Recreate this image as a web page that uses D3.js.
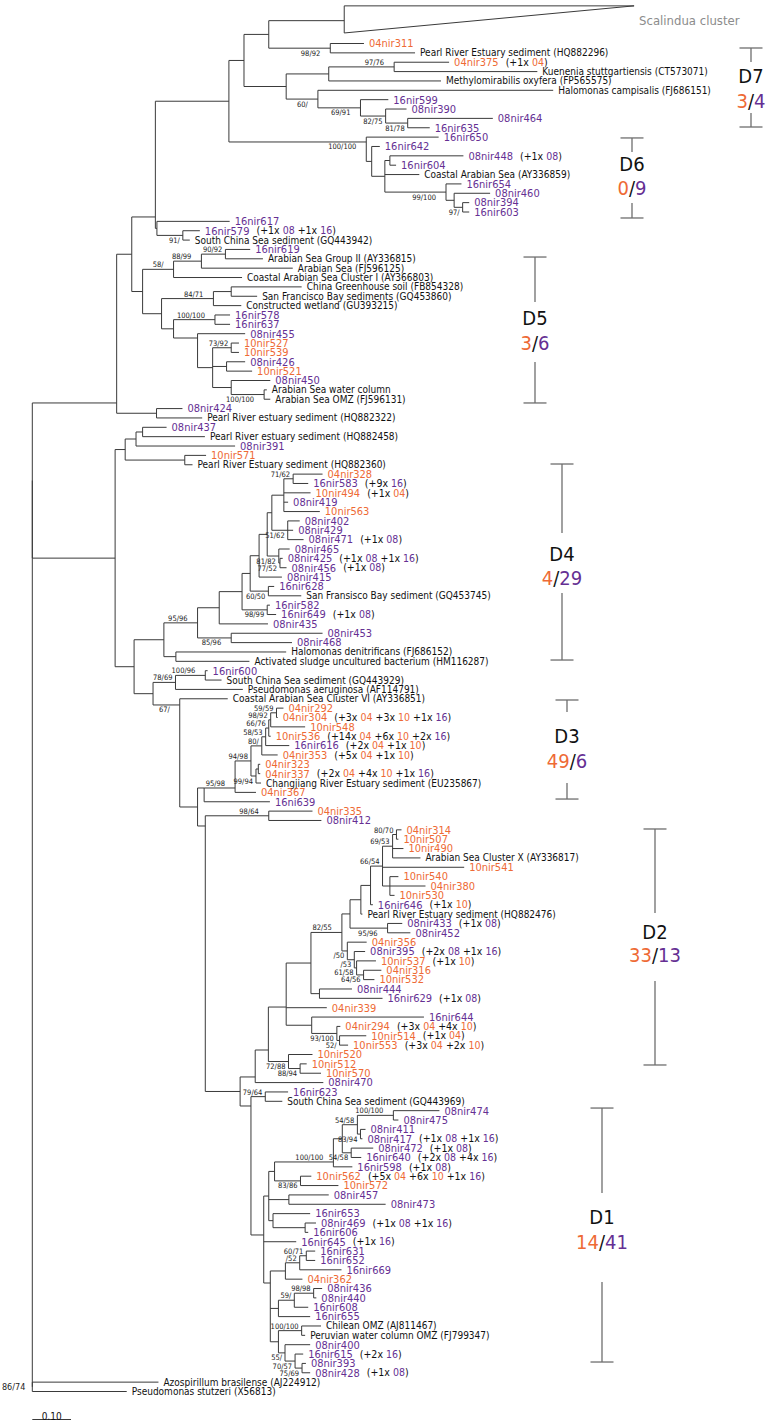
<!DOCTYPE html>
<html><head><meta charset="utf-8">
<script src="https://cdn.jsdelivr.net/npm/d3@7"></script>
<style>body{margin:0;background:#fff}svg{display:block}</style>
</head><body>
<svg id="chart" width="776" height="1423"></svg>
<script>
// ---------------- DATA (Newick pieces, branch lengths in 1/1000 substitutions) ----------------
const n268 = "('Scalindua cluster':195,(04nir311:87,'Pearl River Estuary sediment (HQ882296)':219)98/92:159)";
const n328 = "((04nir375:142,'Kuenenia stuttgartiensis (CT573071)':370)97/76:169,'Methylomirabilis oxyfera (FP565575)':290)";
const n317 = "('Halomonas campisalis (FJ686151)':608,(16nir599:72,(08nir390:54,(08nir464:220,16nir635:57)81/78:57)82/75:65)69/91:110)60/";
const cladeD6 = "(16nir650:187,(16nir642:21,((08nir448:190,16nir604:16):13,'Coastal Arabian Sea (AY336859)':89,(16nir654:40,(08nir460:93,(08nir394:17,16nir603:17)97/:22):21)99/100:158):34):14)100/100";
const n157 = "(16nir617:188,(16nir579:44,'South China Sea sediment (GQ443942)':18)91/:67)";
const cladeD5 = "((((16nir619:64,'Arabian Sea  Group II (AY336815)':97)90/92:62,'Arabian Sea (FJ596125)':236)88/99:72,'Coastal Arabian Sea Cluster I (AY366803)':177)58/:80,((('China Greenhouse soil (FB854328)':182,'San Francisco Bay sediments (GQ453860)':67):46,'Constructed wetland (GU393215)':72)84/71:134,((16nir578:39,16nir637:39)100/100:107,(08nir455:123,((10nir527:20,10nir539:20)73/92:48,(08nir426:48,10nir521:66):36,(08nir450:101,('Arabian Sea water column':7,'Arabian Sea OMZ (FJ596131)':16)100/100:85):48):39):62):31):49)";
const n156 = "(08nir424:67,'Pearl River estuary sediment (HQ882322)':118)";
const n125 = "(((08nir437:62,'Pearl River estuary sediment (HQ882458)':161):17,08nir391:256):28,(10nir571:55,'Pearl River Estuary sediment (HQ882360)':20):154)";
const n283 = "((04nir328:76,16nir583:39)71/62:24,10nir494:69,08nir419:11,10nir563:93)";
const n287 = "(08nir402:31,08nir429:14,08nir471:41)51/62";
const n278 = "(08nir465:28,(08nir425:7,08nir456:17)77/52:3)81/82";
const n259b = "(16nir628:15,'San Fransisco Bay sediment (GQ453745)':85)60/50";
const n267 = "(16nir582:7,16nir649:23)98/99";
const n231d = "(08nir453:236,08nir468:157)85/96";
const n175 = "('Halomonas denitrificans (FJ686152)':285,'Activated sludge uncultured bacterium (HM116287)':190)";
const n175b = "((16nir600:6,'South China Sea sediment (GQ443929)':42)100/96:77,'Pseudomonas aeruginosa (AF114791)':174)78/69";
const n271b = "((04nir292:18,04nir304:3)59/59:15,10nir548:89)98/92";
const n256 = "((04nir323:5,04nir337:5):6,'Changjiang River Estuary sediment (EU235867)':13)99/94";
const n382 = "(((04nir314:13,10nir507:5)80/70:10,10nir490:28,'Arabian Sea Cluster X (AY336817)':72)69/53:26,10nir541:211,(10nir540:22,04nir380:92,10nir530:12):19)66/54";
const n387 = "(08nir433:38,08nir452:59)95/96";
const n347 = "(04nir356:50,(08nir395:28,(10nir537:50,(04nir316:46,10nir532:28)64/56:18)61/58:6)/53:18)/50";
const n319 = "(08nir444:84,16nir629:163)";
const n312 = "(16nir644:290,(04nir294:9,(10nir514:69,10nir553:22)52/:7)93/100:65)";
const n288 = "(10nir520:62,(10nir512:17,10nir570:54)88/94:30)72/88";
const n333 = "((((08nir474:119,08nir475:13)100/100:93,(08nir411:13,08nir417:5)83/94:8)54/58:39,(08nir472:57,16nir640:26)54/58:23):23,16nir598:49)100/100";
const n300b = "(10nir562:28,10nir572:98)83/86";
const n288b = "(08nir457:103,08nir473:250)";
const n273 = "(16nir653:96,(08nir469:28,16nir606:8):83)";
const n285 = "(((16nir631:23,16nir652:23)60/71:17,16nir669:108)/52:37,04nir362:44)";
const n278c = "(((08nir436:22,08nir440:7)98/98:50,16nir608:36)59/:41,16nir655:82)";
const n278d = "(('Chilean OMZ (AJ811467)':50,'Peruvian water column OMZ (FJ799347)':9)100/100:60,(08nir400:65,(16nir615:21,(08nir393:10,08nir428:21)75/69:18)70/57:26)55/:17)";
const n265 = "(16nir623:59,'South China Sea sediment (GQ443969)':44)79/64";
const n269b = "(04nir335:113,08nir412:136)98/64";
const outgroup = "('Azospirillum brasilense (AJ224912)':326,'Pseudomonas stutzeri (X56813)':244)86/74";

// composition of the tree
const cladeD7 = `(${n268}:64,(${n328}:110,${n317}:82):109)`;
const upper = `((((${cladeD7}:39,${cladeD6}:355):190,${n157}:4):61,${cladeD5}:28):39,${n156}:103)`;
const cladeD4 = `(((((((${n283}:31,${n287}:41):12,${n278}:30):21,08nir415:59):23,${n259b}:47):21,${n267}:65):59,08nir435:126):56,${n231d}:87)95/96`;
const cladeD3 = `((((((${n271b}:5,10nir536:5)66/76:8,16nir616:61)58/53:10,04nir353:41)80/:28,${n256}:13)94/98:41,04nir367:54)95/98:80,16ni639:170)`;
const cladeD2 = `((((((((${n382}:31,16nir646:6):25,'Pearl River Estuary sediment (HQ882476)':4):28,${n387}:97):21,${n347}:14)82/55:80,${n319}:22):64,04nir339:105,${n312}:66):46,${n288}:52):34,08nir470:176)`;
const cladeD1 = `(${n265}:37,(((${n333}:152,${n300b}:67):15,${n288b}:52,${n273}:11):13,16nir645:84,(${n285}:39,${n278c}:21,${n278d}:21):17):33)`;
const lower = `(${n125}:26,((${cladeD4}:87,${n175}:31):77,(${n175b}:58,('Coastal Arabian Sea Cluster VI (AY336851)':124,(${cladeD3}:17,(${n269b}:164,(${cladeD2}:39,${cladeD1}:28):90):20):46)67/:69):49):49)`;
const treeNewick = `((${upper}:218,${lower}:214):0,${outgroup}:0);`;

// collapsed clade (drawn as triangle)
const collapsedName = "Scalindua cluster";
const collapsedDepth = 0.749;
const collapsedSlots = [-4.02, -2.44, -1.125]; // top, label, bottom (leaf units)

// internal nodes whose joint is not drawn at the middle of their children: [first leaf, last leaf, row]
const nodeAnchors = [
  ["16nir650", "16nir603", 10.52],
  ["Scalindua cluster", "South China Sea sediment (GQ443942)", 18.53],
  ["Scalindua cluster", "Pearl River estuary sediment (HQ882322)", 38.4],
  ["08nir455", "Arabian Sea OMZ (FJ596131)", 31.46],
  ["Coastal Arabian Sea Cluster VI (AY336851)", "08nir428", 70.66],
  ["04nir292", "04nir367", 79.53],
  ["04nir292", "16ni639", 79.53],
  ["04nir335", "08nir428", 83.59],
  ["04nir314", "10nir553", 102.93],
  ["04nir314", "08nir470", 110.4],
  ["04nir314", "10nir570", 107.52],
  ["16nir623", "08nir428", 113.5],
  ["08nir474", "08nir428", 127.28],
  ["16nir631", "08nir428", 132.41],
  ["08nir474", "16nir598", 119.48]
];

// extra identical sequences per leaf: [leaf, [[count, year], ...]]
const extraCopies = [
  ["04nir375", [[1,"04"]]], ["08nir448", [[1,"08"]]], ["16nir579", [[1,"08"],[1,"16"]]],
  ["16nir583", [[9,"16"]]], ["10nir494", [[1,"04"]]], ["08nir471", [[1,"08"]]],
  ["08nir425", [[1,"08"],[1,"16"]]], ["08nir456", [[1,"08"]]], ["16nir649", [[1,"08"]]],
  ["04nir304", [[3,"04"],[3,"10"],[1,"16"]]], ["10nir536", [[14,"04"],[6,"10"],[2,"16"]]],
  ["16nir616", [[2,"04"],[1,"10"]]], ["04nir353", [[5,"04"],[1,"10"]]],
  ["04nir337", [[2,"04"],[4,"10"],[1,"16"]]], ["16nir646", [[1,"10"]]], ["08nir433", [[1,"08"]]],
  ["08nir395", [[2,"08"],[1,"16"]]], ["10nir537", [[1,"10"]]], ["16nir629", [[1,"08"]]],
  ["04nir294", [[3,"04"],[4,"10"]]], ["10nir514", [[1,"04"]]], ["10nir553", [[3,"04"],[2,"10"]]],
  ["08nir417", [[1,"08"],[1,"16"]]], ["08nir472", [[1,"08"]]], ["16nir640", [[2,"08"],[4,"16"]]],
  ["16nir598", [[1,"08"]]], ["10nir562", [[5,"04"],[6,"10"],[1,"16"]]],
  ["08nir469", [[1,"08"],[1,"16"]]], ["16nir645", [[1,"16"]]], ["16nir615", [[2,"16"]]],
  ["08nir428", [[1,"08"]]]
];

// clusters
const cladeNames = ["D7","D6","D5","D4","D3","D2","D1"];
const countsOrange = [3, 0, 3, 4, 49, 33, 14];
const countsPurple = [4, 9, 6, 29, 6, 13, 41];

// ---------------- LAYOUT / STYLE ----------------
const orange = "#EE6A35", purple = "#652F93", lineColor = "#3a3a3a";
const yearColor = {"04": orange, "10": orange, "08": purple, "16": purple};
const FONT = "'DejaVu Sans Condensed','DejaVu Sans',sans-serif";
const bracketX = [751, 632, 535, 562, 567, 655, 602];
const bracketSpan = [[0.48,1.98,7.42,8.92],[10.09,11.59,17.04,18.64],[22.81,27.61,34.02,38.40],
  [44.92,52.29,58.70,65.86],[70.13,71.41,79.0,80.71],[83.91,92.88,100.15,109.12],[113.72,122.8,132.3,140.85]];
const bracketText = [[3.47,6.14],[12.87,15.44],[29.32,31.99],[54.53,57.10],[73.97,76.64],[94.92,97.38],[125.36,128.03]];

// ---------------- PARSER ----------------
function parseNewick(s) {
  let i = 0;
  function skip() { while (i < s.length && /\s/.test(s[i])) i++; }
  function node() {
    skip();
    const nd = {children: []};
    if (s[i] === '(') {
      i++;
      nd.children.push(node()); skip();
      while (s[i] === ',') { i++; nd.children.push(node()); skip(); }
      i++; // ')'
    }
    skip();
    if (s[i] === "'") { const j = s.indexOf("'", i + 1); nd.name = s.slice(i + 1, j); i = j + 1; }
    else { let j = i; while (j < s.length && !",():;".includes(s[j])) j++; nd.name = s.slice(i, j).trim(); i = j; }
    skip();
    if (s[i] === ':') { i++; let j = i; while (j < s.length && !",();".includes(s[j])) j++; nd.length = +s.slice(i, j); i = j; }
    return nd;
  }
  return node();
}

const svg = d3.select("#chart").style("font-family", FONT);
const root = d3.hierarchy(parseNewick(treeNewick), d => d.children.length ? d.children : null);
root.eachBefore(n => { n.dist = n.parent ? n.parent.dist + (n.data.length || 0) / 1000 : 0; });
let k = 0;
root.leaves().forEach(l => { l.idx = l.data.name === collapsedName ? collapsedSlots[1] : k++; });
const anchorMap = new Map(nodeAnchors.map(a => [a[0] + "|" + a[1], a[2]]));
root.eachAfter(n => {
  if (!n.children) return;
  const lv = n.leaves();
  const key = lv[0].data.name + "|" + lv[lv.length - 1].data.name;
  n.idx = anchorMap.has(key) ? anchorMap.get(key)
        : (n.children[0].idx + n.children[n.children.length - 1].idx) / 2;
});
const nLeaves = k;

const x = d3.scaleLinear().domain([0, 0.1]).range([32.3, 71]);
const y = d3.scaleLinear().domain([0, nLeaves - 1]).range([43.5, 1391.5]);

// branches
const gLines = svg.append("g").attr("stroke", lineColor).attr("stroke-width", 1).attr("fill", "none");
gLines.selectAll("line.h").data(root.descendants().filter(n => n.parent)).join("line")
  .attr("x1", n => x(n.parent.dist)).attr("x2", n => x(n.dist))
  .attr("y1", n => y(n.idx)).attr("y2", n => y(n.idx));
gLines.selectAll("line.v").data(root.descendants().filter(n => n.children)).join("line")
  .attr("x1", n => x(n.dist)).attr("x2", n => x(n.dist))
  .attr("y1", n => y(Math.min(n.idx, n.children[0].idx)))
  .attr("y2", n => y(Math.max(n.idx, n.children[n.children.length - 1].idx)));

// collapsed clade triangle
const coll = root.leaves().find(l => l.data.name === collapsedName);
gLines.append("path").attr("d", () => {
  const x0 = x(coll.dist), x1 = x(coll.dist + collapsedDepth);
  return `M${x0},${y(collapsedSlots[0])}L${x1},${y(collapsedSlots[0])}L${x0},${y(collapsedSlots[2])}Z`;
});

// leaf labels
const extraMap = new Map(extraCopies);
const gLab = svg.append("g");
root.leaves().forEach(l => {
  const name = l.data.name;
  if (name === collapsedName) {
    gLab.append("text").attr("x", x(l.dist + collapsedDepth) + 5).attr("y", y(l.idx)).attr("dy", "0.35em")
      .attr("font-size", 13).attr("fill", "#8c8c8c").text(name);
    return;
  }
  const yr = name.slice(0, 2);
  const coloured = /^\d\dni/.test(name);
  const t = gLab.append("text").attr("x", x(l.dist) + 5).attr("y", y(l.idx)).attr("dy", "0.35em")
    .attr("font-size", coloured ? 11 : 10).attr("fill", coloured ? yearColor[yr] : "#111").text(name);
  if (extraMap.has(name)) {
    const w = t.node().getComputedTextLength();
    const a = gLab.append("text").attr("x", x(l.dist) + 5 + w + 7).attr("y", y(l.idx)).attr("dy", "0.35em")
      .attr("font-size", 10.5).attr("fill", "#111");
    a.append("tspan").text("(");
    extraMap.get(name).forEach((c, i) => {
      a.append("tspan").text((i ? " " : "") + "+" + c[0] + "x ");
      a.append("tspan").attr("fill", yearColor[c[1]]).text(c[1]);
    });
    a.append("tspan").text(")");
  }
});

// bootstrap labels
const gBs = svg.append("g").attr("font-size", 7.5).attr("fill", "#222").attr("text-anchor", "end");
root.descendants().filter(n => n.children && n.data.name).forEach(n => {
  const first = n.parent && n.parent.children[0] === n;
  const rootChild = n.parent === root;
  const branchPx = n.parent ? x(n.dist) - x(n.parent.dist) : 0;
  const gap = rootChild ? 7 : (branchPx > 26 ? 10 : 3);
  gBs.append("text")
    .attr("x", x(n.dist) - gap)
    .attr("y", y(n.idx) + (rootChild ? 3 : first ? -2 : 7.5))
    .attr("font-size", rootChild ? 9 : 7.5)
    .text(n.data.name);
});

// cluster brackets
const gBr = svg.append("g");
cladeNames.forEach((nm, i) => {
  const bx = bracketX[i], s = bracketSpan[i];
  const ln = gBr.append("g").attr("stroke", "#6e6e6e").attr("stroke-width", 1.3);
  ln.append("line").attr("x1", bx - 11.5).attr("x2", bx + 11.5).attr("y1", y(s[0])).attr("y2", y(s[0]));
  ln.append("line").attr("x1", bx).attr("x2", bx).attr("y1", y(s[0])).attr("y2", y(s[1]));
  ln.append("line").attr("x1", bx).attr("x2", bx).attr("y1", y(s[2])).attr("y2", y(s[3]));
  ln.append("line").attr("x1", bx - 11.5).attr("x2", bx + 11.5).attr("y1", y(s[3])).attr("y2", y(s[3]));
  gBr.append("text").attr("x", bx).attr("y", y(bracketText[i][0])).attr("dy", "0.35em")
    .attr("text-anchor", "middle").attr("font-size", 20).attr("fill", "#111").text(nm);
  const c = gBr.append("text").attr("x", bx).attr("y", y(bracketText[i][1])).attr("dy", "0.35em")
    .attr("text-anchor", "middle").attr("font-size", 20);
  c.append("tspan").attr("fill", orange).text(countsOrange[i]);
  c.append("tspan").attr("fill", "#111").text("/");
  c.append("tspan").attr("fill", purple).text(countsPurple[i]);
});

// scale bar
const gSc = svg.append("g");
gSc.append("line").attr("x1", x(0)).attr("x2", x(0.1)).attr("y1", 1419.5).attr("y2", 1419.5)
  .attr("stroke", lineColor).attr("stroke-width", 1);
gSc.append("text").attr("x", (x(0) + x(0.1)) / 2).attr("y", 1420).attr("text-anchor", "middle")
  .attr("font-size", 10).attr("fill", "#111").text("0.10");
</script>
</body></html>
